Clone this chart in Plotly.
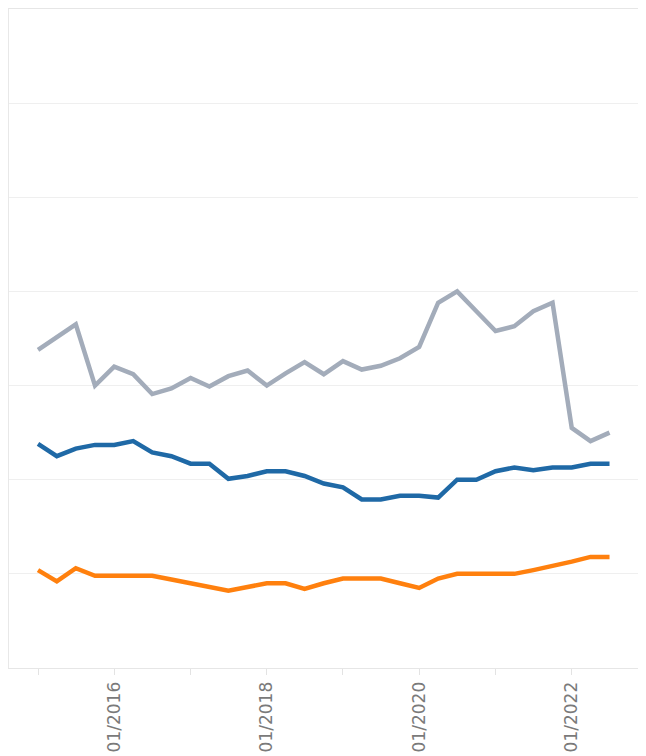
import plotly.graph_objects as go
import pandas as pd

dates = pd.date_range("2015-01-01", "2022-07-01", freq="QS").strftime("%Y-%m-%d").tolist()

gray_values = [33.8, 35.2, 36.5, 30.0, 32.0, 31.2, 29.1, 29.7, 30.8, 29.9,
               31.0, 31.6, 30.0, 31.3, 32.5, 31.2, 32.6, 31.7, 32.1, 32.9,
               34.1, 38.8, 40.0, 37.9, 35.8, 36.3, 37.9, 38.8, 25.5, 24.1, 25.0]
blue_values = [23.8, 22.5, 23.3, 23.7, 23.7, 24.1, 22.9, 22.5, 21.7, 21.7,
               20.1, 20.4, 20.9, 20.9, 20.4, 19.6, 19.2, 17.9, 17.9, 18.3,
               18.3, 18.1, 20.0, 20.0, 20.9, 21.3, 21.0, 21.3, 21.3, 21.7, 21.7]
orange_values = [10.4, 9.2, 10.6, 9.8, 9.8, 9.8, 9.8, 9.4, 9.0, 8.6,
                 8.2, 8.6, 9.0, 9.0, 8.4, 9.0, 9.5, 9.5, 9.5, 9.0,
                 8.5, 9.5, 10.0, 10.0, 10.0, 10.0, 10.4, 10.8, 11.3, 11.8, 11.8]

tick_dates = ["2015-01-01", "2016-01-01", "2017-01-01", "2018-01-01",
              "2019-01-01", "2020-01-01", "2021-01-01", "2022-01-01"]
tick_labels = ["", "01/2016", "", "01/2018", "", "01/2020", "", "01/2022"]

fig = go.Figure()
series = [
    ("Gray", gray_values, "#a3acba"),
    ("Blue", blue_values, "#1f69a6"),
    ("Orange", orange_values, "#ff800e"),
]
for name, vals, color in series:
    fig.add_trace(go.Scatter(x=dates, y=vals, mode="lines", name=name,
                             line=dict(color=color, width=4.5)))

fig.update_layout(
    width=646, height=756,
    margin=dict(l=1, r=14, t=1, b=96),
    paper_bgcolor="white", plot_bgcolor="white",
    showlegend=False,
    font=dict(family="DejaVu Sans, sans-serif", color="#777777"),
)
fig.update_xaxes(
    type="date",
    range=["2014-08-15", "2022-11-24"],
    tickvals=tick_dates, ticktext=tick_labels,
    tickangle=-90, tickfont=dict(size=17, color="#7a7a7a"),
    ticks="outside", ticklen=6, tickcolor="#e3e3e3",
    showgrid=False, showline=True, mirror=True, linecolor="#e6e6e6", linewidth=1,
    zeroline=False,
)
fig.update_yaxes(
    range=[0, 70], dtick=10,
    showticklabels=False, showgrid=True, gridcolor="#efefef", gridwidth=1,
    showline=True, linecolor="#e8e8e8", linewidth=1, zeroline=False,
)

fig.write_html("out.html")
